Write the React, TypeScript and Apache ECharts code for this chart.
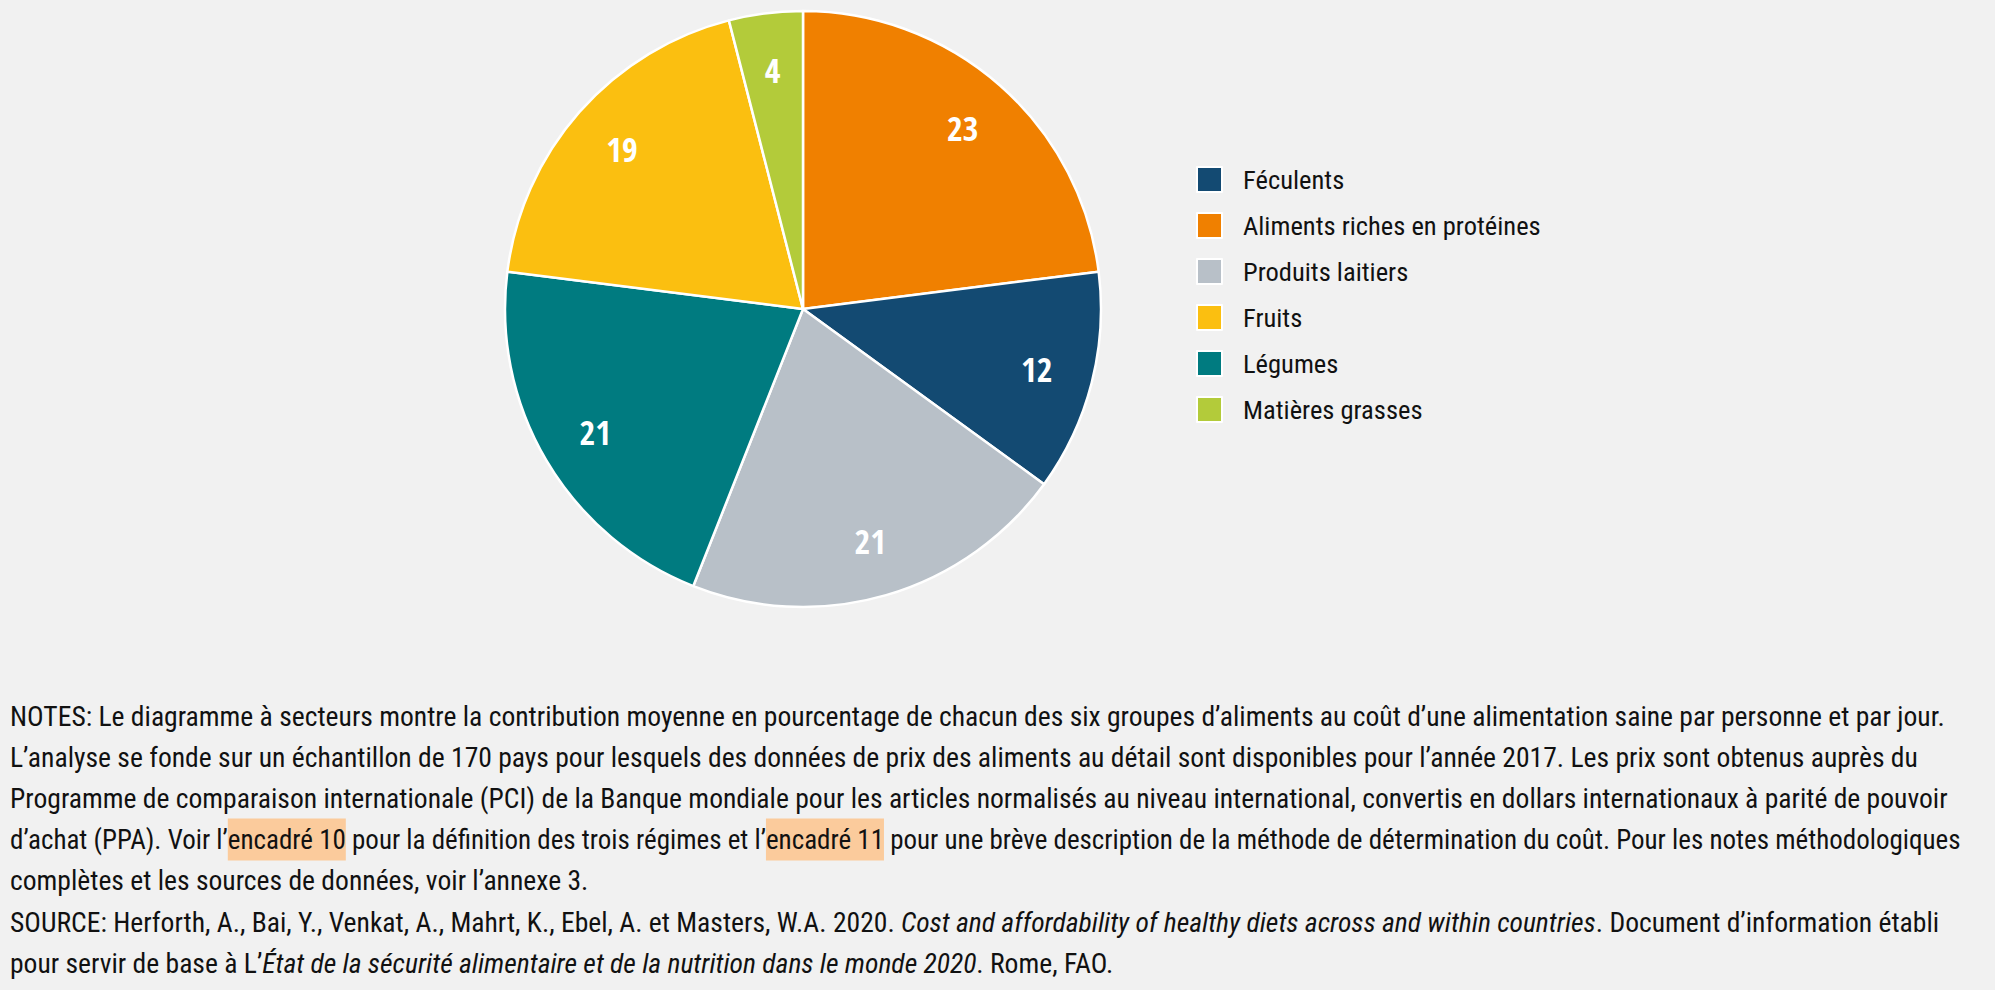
import React, { useEffect, useRef } from "react";
import * as echarts from "echarts";

const categories = [
  "Aliments riches en protéines",
  "Féculents",
  "Produits laitiers",
  "Légumes",
  "Fruits",
  "Matières grasses",
];
const values = [23, 12, 21, 21, 19, 4];
const colors = ["#f08000", "#134a72", "#b8c0c8", "#007b80", "#fbbf10", "#b3cb3a"];
const legendOrder = [
  "Féculents",
  "Aliments riches en protéines",
  "Produits laitiers",
  "Fruits",
  "Légumes",
  "Matières grasses",
];

const noteLines = [
  "NOTES: Le diagramme à secteurs montre la contribution moyenne en pourcentage de chacun des six groupes d’aliments au coût d’une alimentation saine par personne et par jour.",
  "L’analyse se fonde sur un échantillon de 170 pays pour lesquels des données de prix des aliments au détail sont disponibles pour l’année 2017. Les prix sont obtenus auprès du",
  "Programme de comparaison internationale (PCI) de la Banque mondiale pour les articles normalisés au niveau international, convertis en dollars internationaux à parité de pouvoir",
  "d’achat (PPA). Voir l’{hl|encadré 10} pour la définition des trois régimes et l’{hl|encadré 11} pour une brève description de la méthode de détermination du coût. Pour les notes méthodologiques",
  "complètes et les sources de données, voir l’annexe 3.",
  "SOURCE: Herforth, A., Bai, Y., Venkat, A., Mahrt, K., Ebel, A. et Masters, W.A. 2020. {it|Cost and affordability of healthy diets across and within countries}. Document d’information établi",
  "pour servir de base à L’{it|État de la sécurité alimentaire et de la nutrition dans le monde 2020}. Rome, FAO.",
];

const BODY_FONT = "'Liberation Sans Narrow', 'Roboto Condensed', sans-serif";
const BODY_SIZE = 27.6;
const TIGHT_SIZE = 27.0;

export default function App() {
  const ref = useRef<HTMLDivElement>(null);
  useEffect(() => {
    if (!ref.current) return;
    const chart = echarts.init(ref.current, undefined, { renderer: "svg" });
    const data = categories.map((name, i) => ({
      name,
      value: values[i],
      itemStyle: { color: colors[i] },
    }));
    const R = 298;
    chart.setOption({
      animation: false,
      backgroundColor: "#f1f1f1",
      legend: {
        data: legendOrder,
        orient: "vertical",
        left: 1196,
        top: 166,
        padding: 0,
        icon: "rect",
        itemWidth: 25,
        itemHeight: 25,
        itemGap: 19,
        selectedMode: false,
        textStyle: {
          fontFamily: "'Roboto Condensed', 'Liberation Sans Narrow', sans-serif",
          fontSize: 26.5,
          lineHeight: 25,
          color: "#111",
          padding: [0, 0, 0, 16],
        },
      },
      series: [
        {
          type: "pie",
          center: [803, 309],
          radius: [0, R],
          startAngle: 90,
          clockwise: true,
          silent: true,
          label: { show: false },
          labelLine: { show: false },
          itemStyle: { borderColor: "#ffffff", borderWidth: 2.5 },
          data,
        },
        {
          type: "pie",
          center: [803, 309],
          radius: [R * 0.6, R],
          startAngle: 90,
          clockwise: true,
          silent: true,
          itemStyle: { color: "rgba(0,0,0,0)", borderWidth: 0 },
          label: {
            show: true,
            position: "inside",
            formatter: "{c}",
            color: "#ffffff",
            fontFamily: "'Open Sans Condensed', 'Roboto Condensed', sans-serif",
            fontWeight: "bold",
            fontSize: 34,
          },
          labelLine: { show: false },
          data: categories.map((name, i) => ({ name, value: values[i] })),
        },
      ],
      graphic: noteLines.map((line, i) => {
        const size = i === 3 ? TIGHT_SIZE : BODY_SIZE;
        return {
          type: "text",
          x: 10,
          y: 716 + i * 41.2,
          silent: true,
          style: {
            text: line,
            fontFamily: BODY_FONT,
            fontSize: size,
            fill: "#111",
            verticalAlign: "middle",
            rich: {
              hl: {
                fontFamily: BODY_FONT,
                fontSize: size,
                color: "#222",
                backgroundColor: "#fbcb9c",
                lineHeight: 42,
                height: 42,
                padding: [0, 0],
              },
              it: {
                fontFamily: BODY_FONT,
                fontSize: size,
                fontStyle: "italic",
                color: "#111",
              },
            },
          },
        };
      }),
    });
    return () => chart.dispose();
  }, []);
  return (
    <div
      ref={ref}
      style={{ position: "fixed", left: 0, top: 0, width: 1995, height: 990 }}
    />
  );
}
